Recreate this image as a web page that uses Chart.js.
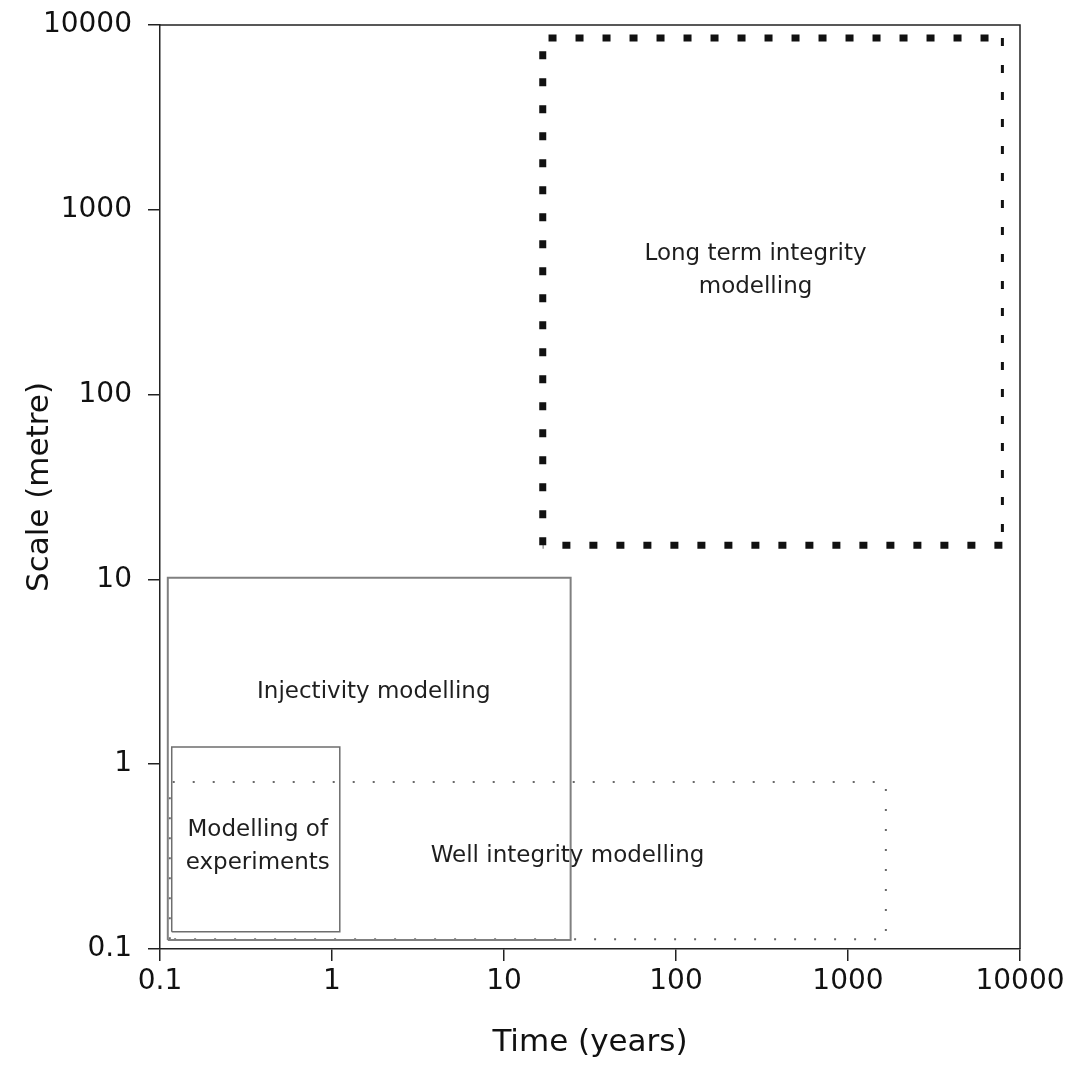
<!DOCTYPE html>
<html>
<head>
<meta charset="utf-8">
<script src="https://cdn.jsdelivr.net/npm/chart.js@4.4.1/dist/chart.umd.min.js"></script>
<style>
  html, body { margin: 0; background: #fff; }
  #contenedor { width: 1083px; height: 1068px; }
</style>
</head>
<body>
<div id="contenedor"><canvas id="grafica"></canvas></div>
<script>
// regiones de modelado (rectangulos en escala log-log)
const regiones = ['Long term integrity modelling', 'Injectivity modelling', 'Modelling of experiments', 'Well integrity modelling'];
const tiempoMin = [16.8, 0.111, 0.117, 0.114]; // years
const tiempoMax = [7900, 24.4, 1.11, 1660]; // years
const escalaMin = [15.3, 0.112, 0.124, 0.113]; // m
const escalaMax = [8500, 10.2, 1.24, 0.80]; // m

// texto de cada region y donde va (en unidades de los ejes)
const etiquetas = [['Long term integrity', 'modelling'], ['Injectivity modelling'], ['Modelling of', 'experiments'], ['Well integrity modelling']];
const etiquetaTiempo = [290, 1.75, 0.37, 23.4];
const etiquetaEscala = [470, 2.46, 0.36, 0.318];

const marcasEjes = [0.1, 1, 10, 100, 1000, 10000];

const colores = ['#111111', '#808080', '#6e6e6e', '#6a6a6a'];
const grosores = [7, 2, 1.5, 2];
const trazos = [[8, 19], [], [], [2, 18]];

let conjuntos = regiones.map((nombre, k) => ({
    label: nombre,
    data: [
        {x: tiempoMin[k], y: escalaMin[k]},
        {x: tiempoMin[k], y: escalaMax[k]},
        {x: tiempoMax[k], y: escalaMax[k]},
        {x: tiempoMax[k], y: escalaMin[k]},
        {x: tiempoMin[k], y: escalaMin[k]}
    ],
    showLine: true,
    pointRadius: 0,
    fill: false,
    tension: 0,
    borderColor: colores[k],
    borderWidth: grosores[k],
    borderDash: trazos[k],
    borderCapStyle: 'butt',
    segment: k == 0 ? { borderWidth: ctx => ctx.p0DataIndex == 2 ? 3 : undefined } : {}
}));

// caja completa alrededor del area de la grafica
const caja = {
    id: 'caja',
    afterDraw(chart) {
        const {ctx, chartArea} = chart;
        ctx.save();
        ctx.strokeStyle = '#222';
        ctx.lineWidth = 1.5;
        ctx.beginPath();
        ctx.moveTo(chartArea.left, chartArea.top);
        ctx.lineTo(chartArea.right, chartArea.top);
        ctx.lineTo(chartArea.right, chartArea.bottom);
        ctx.stroke();
        ctx.restore();
    }
};

const textos = {
    id: 'textos',
    afterDatasetsDraw(chart) {
        const {ctx, scales} = chart;
        ctx.save();
        ctx.fillStyle = '#1e1e1e';
        ctx.font = '23px "DejaVu Sans"';
        ctx.textAlign = 'center';
        ctx.textBaseline = 'middle';
        etiquetas.forEach((lineas, k) => {
            const px = scales.x.getPixelForValue(etiquetaTiempo[k]);
            const py = scales.y.getPixelForValue(etiquetaEscala[k]);
            const alto = 33;
            lineas.forEach((linea, j) => {
                ctx.fillText(linea, px, py + (j - (lineas.length - 1) / 2) * alto);
            });
        });
        ctx.restore();
    }
};

const ejeComun = {
    type: 'logarithmic',
    min: 0.1,
    max: 10000,
    afterBuildTicks: eje => { eje.ticks = marcasEjes.map(v => ({value: v})); },
    ticks: {
        autoSkip: false,
        maxRotation: 0,
        color: '#111',
        font: {family: 'DejaVu Sans', size: 28},
        callback: v => String(v)
    },
    grid: {drawOnChartArea: false, drawTicks: true, tickLength: 12, color: '#222', lineWidth: 1.5},
    border: {display: true, color: '#222', width: 1.5}
};

var grafica = new Chart(document.getElementById('grafica'), {
    type: 'scatter',
    data: {datasets: conjuntos},
    options: {
        responsive: true,
        maintainAspectRatio: false,
        animation: false,
        layout: {padding: {left: 0, right: 63, top: 25, bottom: 0}},
        plugins: {legend: {display: false}, tooltip: {enabled: false}},
        scales: {
            x: {
                ...ejeComun,
                position: 'bottom',
                ticks: {...ejeComun.ticks, padding: 4},
                title: {display: true, text: 'Time (years)', color: '#111', font: {family: 'DejaVu Sans', size: 31}, padding: {top: 0, bottom: 6}},
                afterFit: eje => { eje.height = 119; }
            },
            y: {
                ...ejeComun,
                position: 'left',
                ticks: {...ejeComun.ticks, padding: 16},
                title: {display: true, text: 'Scale (metre)', color: '#111', font: {family: 'DejaVu Sans', size: 31}, padding: {top: 21, bottom: 0}},
                afterFit: eje => { eje.width = 160; eje.paddingTop = 10; eje.paddingBottom = 10; }
            }
        }
    },
    plugins: [caja, textos]
});
</script>
</body>
</html>
